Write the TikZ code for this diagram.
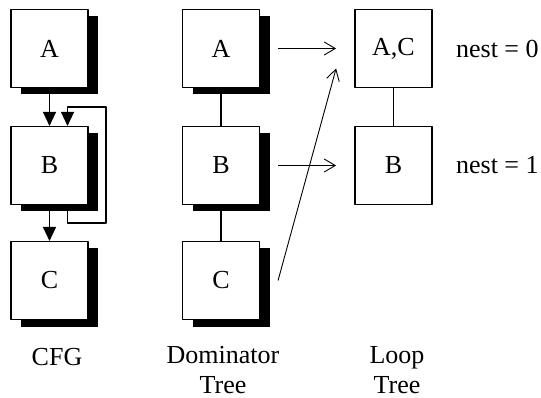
\documentclass[tikz,border=0pt]{standalone}
\usepackage{fontspec}
\setmainfont{Liberation Serif}
\usetikzlibrary{arrows.meta,shadows,positioning}
\tikzset{
	blk/.style={draw, fill=white, line width=1.1pt, minimum width=77pt, minimum height=78pt, inner sep=0pt,
		drop shadow={fill=black, opacity=1, shadow xshift=10pt, shadow yshift=-7pt}},
	lbox/.style={draw, line width=1.8pt, minimum width=77pt, minimum height=78pt, inner sep=0pt},
	cfl/.style={line width=1.4pt, -{Triangle[length=14pt,width=13pt]}},
	map/.style={line width=0.9pt, -{Straight Barb[length=11pt,width=13pt]}}
}
\begin{document}
\begin{tikzpicture}[x=1pt, y=-1pt, line join = round,
	every node/.style={font=\fontsize{26}{30}\selectfont}]
	\useasboundingbox (0,0) rectangle (541,398);
	\node[blk] (cfgA) at (49.5,48.5) {A}; % CFG
	\node[blk] (cfgB) at (49.5,165.5) {B};
	\node[blk] (cfgC) at (49.5,280.5) {C};
	\node[blk] (domA) at (221,48.5) {A}; % дерево доминаторов
	\node[blk] (domB) at (221,165.5) {B};
	\node[blk] (domC) at (221,280.5) {C};
	\node[lbox] (loopAC) at (393.5,48.5) {A,C}; % дерево циклов
	\node[lbox] (loopB) at (393.5,165.5) {B};
	\coordinate (back) at (106,107);
	\coordinate (cOut) at ([xshift=18pt]domC.east);
	\coordinate (cIn) at ([xshift=-18pt,yshift=-20pt]loopAC.west);
	\draw[cfl] (cfgA) -- (cfgB);
	\draw[cfl] (cfgB) -- (cfgC);
	\draw[cfl] ([xshift=18pt]cfgB.south) -- ++(0,18) -| (back) -| ([xshift=18pt]cfgB.north); % обратная дуга
	\draw[line width=1.3pt] (domA) -- (domB) -- (domC);
	\draw[line width=1.3pt] (loopAC) -- (loopB);
	\draw[map, shorten <=18pt, shorten >=18pt] (domA) -- (loopAC);
	\draw[map, shorten <=18pt, shorten >=18pt] (domB) -- (loopB);
	\draw[map] (cOut) -- (cIn);
	\node[anchor=west, inner sep=2pt] (nest0) at ([xshift=21pt]loopAC.east) {nest = 0};
	\node[anchor=west, inner sep=2pt] (nest1) at ([xshift=21pt]loopB.east) {nest = 1};
	\node (cfgLbl) at (57,357) {CFG};
	\node[align=center] (domLbl) at (223,370) {Dominator\\Tree};
	\node[align=center] (loopLbl) at (397,370) {Loop\\Tree};
\end{tikzpicture}
\end{document}
